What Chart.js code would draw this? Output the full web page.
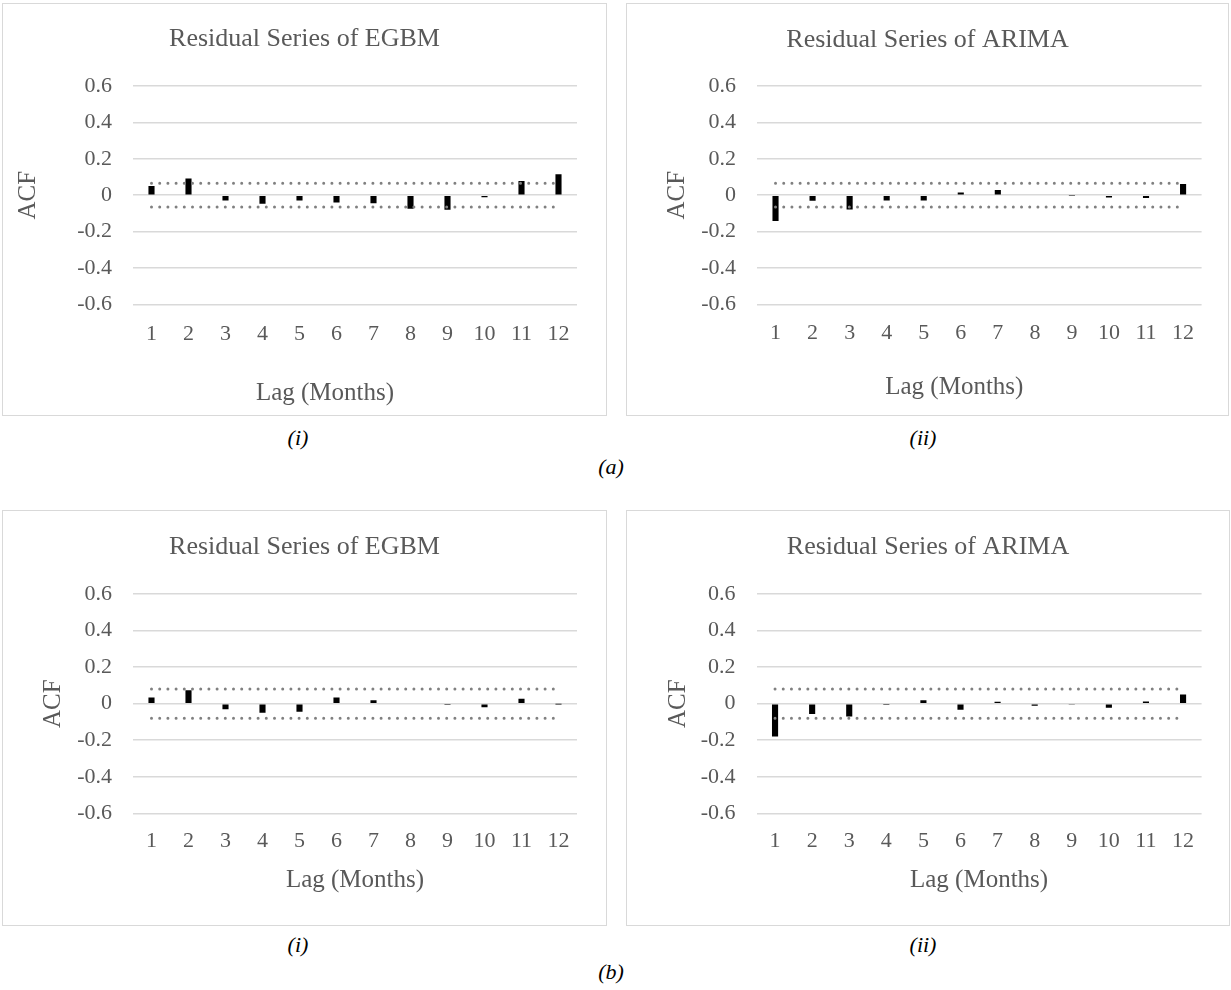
<!DOCTYPE html>
<html>
<head>
<meta charset="utf-8">
<title>Residual ACF</title>
<script src="https://cdn.jsdelivr.net/npm/chart.js@4.4.1/dist/chart.umd.min.js"></script>
<style>
  html, body { margin: 0; padding: 0; background: #ffffff; }
  body { position: relative; width: 1231px; height: 990px; overflow: hidden; }
  .panel { position: absolute; box-sizing: border-box; border: 1px solid #d9d9d9; background: #fff; }
  .panel canvas { position: absolute; left: 0; top: 0; }
  .cap { position: absolute; transform: translate(-50%, -50%); font-family: "Liberation Serif", "Times New Roman", serif;
         font-style: italic; font-size: 22px; color: #000; white-space: nowrap; }
</style>
</head>
<body>
<div class="panel" id="p1"><canvas id="c1"></canvas></div>
<div class="panel" id="p2"><canvas id="c2"></canvas></div>
<div class="panel" id="p3"><canvas id="c3"></canvas></div>
<div class="panel" id="p4"><canvas id="c4"></canvas></div>

<div class="cap" style="left:298px; top:438px;">(i)</div>
<div class="cap" style="left:923px; top:438px;">(ii)</div>
<div class="cap" style="left:611px; top:467px;">(a)</div>
<div class="cap" style="left:298px; top:945px;">(i)</div>
<div class="cap" style="left:923px; top:945px;">(ii)</div>
<div class="cap" style="left:611px; top:972px;">(b)</div>

<script>
// Lags 1..12 (months)
const lags = ['1', '2', '3', '4', '5', '6', '7', '8', '9', '10', '11', '12'];

// Autocorrelation of residuals, case (a)
const acfEgbmA  = [0.050, 0.091, -0.030, -0.047, -0.030, -0.040, -0.045, -0.075, -0.080, -0.012, 0.078, 0.115];
const acfArimaA = [-0.142, -0.031, -0.079, -0.029, -0.030, 0.015, 0.028, -0.004, -0.002, -0.013, -0.015, 0.061];

// Autocorrelation of residuals, case (b)
const acfEgbmB  = [0.034, 0.074, -0.030, -0.050, -0.045, 0.034, 0.018, -0.004, -0.008, -0.020, 0.027, -0.001];
const acfArimaB = [-0.180, -0.057, -0.070, -0.007, 0.018, -0.033, 0.010, -0.012, -0.006, -0.022, 0.012, 0.050];

// 95% confidence bounds (±1.96/√n)
const boundA = 0.065;
const boundB = 0.08;

// Y-axis tick values
const yTicks = [-0.6, -0.4, -0.2, 0, 0.2, 0.4, 0.6];

const SERIF = '"Liberation Serif", "Times New Roman", serif';
const TEXT = '#595959';
const TITLE_SIZE = 26, AXIS_SIZE = 25, TICK_SIZE = 22;

// Draws the x-axis caption centred under the plot, with an optional sideways nudge
const lagTitlePlugin = {
  id: 'lagTitle',
  afterDraw(chart, args, opts) {
    const { ctx, chartArea } = chart;
    ctx.save();
    ctx.font = AXIS_SIZE + 'px ' + SERIF;
    ctx.fillStyle = TEXT;
    ctx.textAlign = 'center';
    ctx.textBaseline = 'middle';
    ctx.fillText(opts.text, (chartArea.left + chartArea.right) / 2 + opts.shift, opts.y);
    ctx.restore();
  }
};

function fmtTick(v) {
  if (Math.abs(v) < 1e-9) return '0';
  return (Math.round(v * 10) / 10).toFixed(1);
}

function makePanel(cfg) {
  const box = document.getElementById(cfg.boxId);
  box.style.left = cfg.box.x + 'px';
  box.style.top = cfg.box.y + 'px';
  box.style.width = cfg.box.w + 'px';
  box.style.height = cfg.box.h + 'px';
  const W = cfg.box.w - 2, H = cfg.box.h - 2;
  const canvas = document.getElementById(cfg.canvasId);
  canvas.width = W; canvas.height = H;
  canvas.style.width = W + 'px'; canvas.style.height = H + 'px';

  const titleLH = TITLE_SIZE * 1.2, axisLH = AXIS_SIZE * 1.2, tickLH = TICK_SIZE * 1.2;
  const g = cfg.geom;

  return new Chart(canvas, {
    type: 'bar',
    data: {
      labels: lags,
      datasets: [
        {
          type: 'bar',
          label: 'ACF',
          data: cfg.values,
          backgroundColor: '#000000',
          borderWidth: 0,
          barPercentage: 0.165,
          categoryPercentage: 1.0,
          order: 2
        },
        {
          type: 'line',
          label: 'Upper bound',
          data: lags.map(() => cfg.bound),
          borderColor: '#808080',
          borderWidth: 3,
          borderDash: [0, 8.2],
          borderCapStyle: 'round',
          pointRadius: 0,
          fill: false,
          order: 1
        },
        {
          type: 'line',
          label: 'Lower bound',
          data: lags.map(() => -cfg.bound),
          borderColor: '#808080',
          borderWidth: 3,
          borderDash: [0, 8.2],
          borderCapStyle: 'round',
          pointRadius: 0,
          fill: false,
          order: 1
        }
      ]
    },
    options: {
      responsive: false,
      animation: false,
      devicePixelRatio: 1,
      layout: { padding: 0 },
      plugins: {
        legend: { display: false },
        tooltip: { enabled: false },
        title: {
          display: true,
          text: cfg.title,
          color: TEXT,
          font: { family: SERIF, size: TITLE_SIZE, weight: 'normal', lineHeight: 1.2 },
          padding: { top: g.titleY - titleLH / 2, bottom: g.plotTop - g.titleY - titleLH / 2 }
        },
        lagTitle: { text: 'Lag (Months)', shift: g.xTitleShift, y: g.xTitleY }
      },
      scales: {
        x: {
          grid: { display: false, drawTicks: false },
          border: { display: false },
          ticks: {
            color: TEXT,
            font: { family: SERIF, size: TICK_SIZE, lineHeight: 1.2 },
            padding: g.xTickY - g.plotBottom - tickLH / 2,
            autoSkip: false,
            maxRotation: 0,
            minRotation: 0
          },
          afterFit(scale) { scale.height = H - g.plotBottom; }
        },
        y: {
          min: yTicks[0],
          max: yTicks[yTicks.length - 1],
          afterBuildTicks(scale) { scale.ticks = yTicks.map(v => ({ value: v })); },
          grid: { color: '#d9d9d9', lineWidth: 1.5, drawTicks: false },
          border: { display: false },
          ticks: {
            color: TEXT,
            font: { family: SERIF, size: TICK_SIZE, lineHeight: 1.2 },
            padding: g.yTickGap,
            callback: v => fmtTick(v)
          },
          title: {
            display: true,
            text: 'ACF',
            color: TEXT,
            font: { family: SERIF, size: AXIS_SIZE, lineHeight: 1.2 },
            padding: { top: g.yTitleX - axisLH / 2, bottom: 0 }
          },
          afterFit(scale) { scale.width = g.plotLeft; }
        },
        // empty right-hand margin so the title stays centred on the whole panel
        yMargin: {
          position: 'right',
          min: yTicks[0],
          max: yTicks[yTicks.length - 1],
          grid: { display: false, drawTicks: false },
          border: { display: false },
          ticks: { display: false },
          afterFit(scale) { scale.width = W - g.plotRight; }
        }
      }
    },
    plugins: [lagTitlePlugin]
  });
}

// Panel layout (canvas-relative positions)
const layoutTopLeft  = { plotLeft: 130, plotRight: 574,   plotTop: 82, plotBottom: 300.3, titleY: 35,   xTickY: 330,   xTitleY: 389, xTitleShift: -30, yTitleX: 25, yTickGap: 21 };
const layoutTopRight = { plotLeft: 130, plotRight: 574.6, plotTop: 82, plotBottom: 300.3, titleY: 36,   xTickY: 329,   xTitleY: 383, xTitleShift: -25, yTitleX: 50, yTickGap: 21 };
const layoutBotLeft  = { plotLeft: 130, plotRight: 574,   plotTop: 83, plotBottom: 302.3, titleY: 35.7, xTickY: 330.7, xTitleY: 369, xTitleShift: 0,   yTitleX: 50, yTickGap: 21 };
const layoutBotRight = { plotLeft: 129.5, plotRight: 574.6, plotTop: 83, plotBottom: 302.3, titleY: 35.7, xTickY: 330.7, xTitleY: 369, xTitleShift: 0, yTitleX: 51, yTickGap: 21 };

makePanel({ boxId: 'p1', canvasId: 'c1', box: { x: 2,   y: 3,   w: 605, h: 413 }, title: 'Residual Series of EGBM',  values: acfEgbmA,  bound: boundA, geom: layoutTopLeft });
makePanel({ boxId: 'p2', canvasId: 'c2', box: { x: 626, y: 3,   w: 603, h: 413 }, title: 'Residual Series of ARIMA', values: acfArimaA, bound: boundA, geom: layoutTopRight });
makePanel({ boxId: 'p3', canvasId: 'c3', box: { x: 2,   y: 510, w: 605, h: 416 }, title: 'Residual Series of EGBM',  values: acfEgbmB,  bound: boundB, geom: layoutBotLeft });
makePanel({ boxId: 'p4', canvasId: 'c4', box: { x: 626, y: 510, w: 604, h: 416 }, title: 'Residual Series of ARIMA', values: acfArimaB, bound: boundB, geom: layoutBotRight });
</script>
</body>
</html>
